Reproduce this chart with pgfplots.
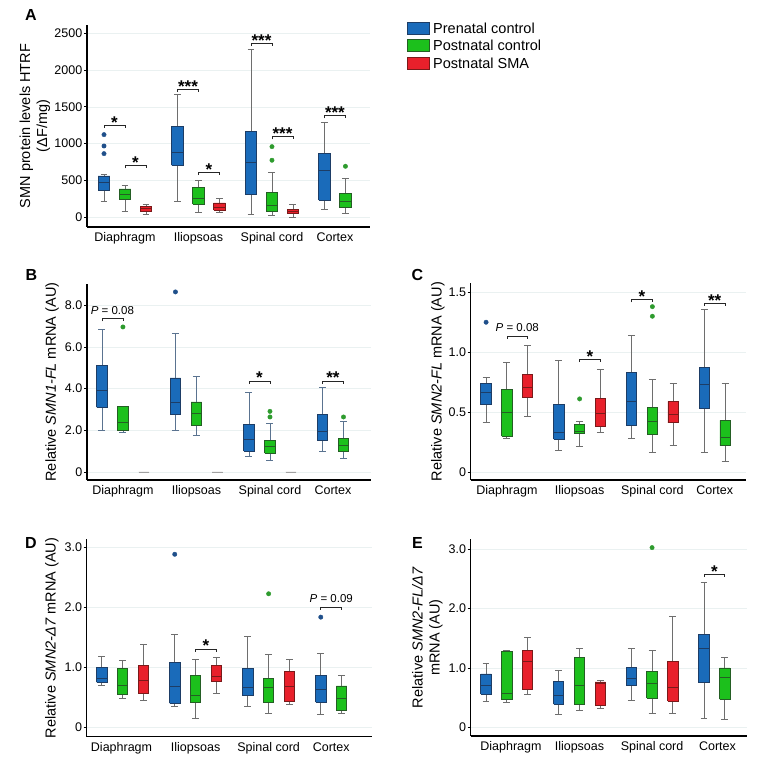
\documentclass[border=0pt]{standalone}
\usepackage{fontspec}
\setmainfont{Liberation Sans}
\usepackage{pgfplots}
\pgfplotsset{compat=1.18}

\definecolor{cB}{HTML}{1A6BBA}
\definecolor{cG}{HTML}{1CC01C}
\definecolor{cR}{HTML}{E8202B}
\definecolor{cZ}{HTML}{A0A0A0}
\definecolor{eB}{HTML}{1D3D66}
\definecolor{eG}{HTML}{245E24}
\definecolor{eR}{HTML}{7A1A1A}
\definecolor{eZ}{HTML}{A0A0A0}
\definecolor{oB}{HTML}{1F4F8A}
\definecolor{oG}{HTML}{2E9B2E}
\definecolor{wk}{HTML}{6E6E6E}
\definecolor{wkB}{HTML}{5A7390}
\definecolor{gridc}{HTML}{EAF1F1}

\pgfplotsset{
  panel/.style={
    scale only axis, anchor=south west, clip=false,
    axis lines=left, axis line style={-, line width=1.1pt, black},
    tick align=outside, major tick length=3pt,
    major tick style={black, line width=0.8pt},
    xtick style={draw=none},
    ymajorgrids, grid style={line width=0.5pt, gridc},
    xtick={1,4.5,8,11}, xticklabels={Diaphragm,Iliopsoas,Spinal cord,Cortex},
    tick label style={font=\fontsize{12.5}{14}\selectfont},
    yticklabel style={inner sep=1.5pt},
    xticklabel style={inner sep=0pt, yshift=-2.5pt},
    label style={font=\fontsize{14.5}{17}\selectfont},
    ylabel style={anchor=center, align=center},
  },
}

\def\hw{0.25}
\def\cw{0.165}
% #1 colour tag, #2 whisker colour, #3 position, #4 lower whisker, #5 Q1, #6 median, #7 Q3, #8 upper whisker
\newcommand{\bx}[8]{%
  \pgfmathsetmacro{\xa}{#3-\hw}\pgfmathsetmacro{\xb}{#3+\hw}%
  \pgfmathsetmacro{\ca}{#3-\cw}\pgfmathsetmacro{\cb}{#3+\cw}%
  \addplot[draw=#2, line width=0.8pt] coordinates {(#3,#7) (#3,#8)};
  \addplot[draw=#2, line width=0.8pt] coordinates {(\ca,#8) (\cb,#8)};
  \addplot[draw=#2, line width=0.8pt] coordinates {(#3,#5) (#3,#4)};
  \addplot[draw=#2, line width=0.8pt] coordinates {(\ca,#4) (\cb,#4)};
  \addplot[fill=c#1, draw=e#1, line width=0.8pt, line join=miter] coordinates {(\xa,#5) (\xb,#5) (\xb,#7) (\xa,#7) (\xa,#5)};
  \addplot[draw=e#1, line width=0.8pt] coordinates {(\xa,#6) (\xb,#6)};
}
\newcommand{\ol}[2]{\addplot[only marks, mark=*, mark size=2.2pt, draw=o#1, fill=o#1] coordinates {#2};}
\newcommand{\brk}[5]{%
  \draw[line width=0.7pt, black!85] ([yshift=-2.8pt]axis cs:#1,#4) -- (axis cs:#1,#4) -- (axis cs:#2,#4) -- ([yshift=-2.8pt]axis cs:#2,#4);
  \node[anchor=base, inner sep=0pt, yshift=-3pt, font=\fontsize{17}{17}\selectfont\bfseries] at (axis cs:#3,#4) {#5};}
\newcommand{\brp}[5]{%
  \draw[line width=0.7pt, black!85] ([yshift=-2.8pt]axis cs:#1,#4) -- (axis cs:#1,#4) -- (axis cs:#2,#4) -- ([yshift=-2.8pt]axis cs:#2,#4);
  \node[anchor=base, inner sep=0pt, yshift=4.4pt, font=\fontsize{11.5}{13}\selectfont] at (axis cs:#3,#4) {\textit{P} = #5};}

\begin{document}
\begin{tikzpicture}
\useasboundingbox (0,0) rectangle (767pt,763pt);

% ---------------- Panel A ----------------
\def\hw{0.275}
\begin{axis}[panel, at={(87pt,536pt)}, width=283pt, height=202pt,
  xmin=-0.81, xmax=12.67, ymin=-132, ymax=2613,
  ytick={0,500,1000,1500,2000,2500}, yticklabels={0,500,1000,1500,2000,2500},
  ylabel={SMN protein levels HTRF\\(ΔF/mg)},
  ylabel style={at={(axis description cs:-0.184,0.5)}}]
\bx{B}{wk}{0}{213}{371}{471}{562}{589}
\ol{B}{(0,865) (0,969) (0,1123)}
\bx{G}{wk}{1}{77}{245}{317}{385}{435}
\bx{R}{wk}{2}{41}{86}{118}{145}{177}
\bx{B}{wk}{3.5}{217}{707}{883}{1236}{1667}
\bx{G}{wk}{4.5}{63}{181}{258}{403}{503}
\bx{R}{wk}{5.5}{72}{100}{136}{195}{254}
\bx{B}{wk}{7}{41}{312}{743}{1168}{2283}
\bx{G}{wk}{8}{27}{82}{159}{340}{611}
\ol{G}{(8,775) (8,960)}
\bx{R}{wk}{9}{0}{54}{82}{109}{172}
\bx{B}{wk}{10.5}{109}{235}{639}{865}{1295}
\bx{G}{wk}{11.5}{54}{131}{213}{326}{530}
\ol{G}{(11.5,693)}
\brk{0}{1}{0.5}{1250}{*}
\brk{1}{2}{1.5}{702}{*}
\brk{3.5}{4.5}{4}{1739}{***}
\brk{4.5}{5.5}{5}{611}{*}
\brk{7}{8}{7.5}{2364}{***}
\brk{8}{9}{8.5}{1096}{***}
\brk{10.5}{11.5}{11}{1381}{***}
\end{axis}
\def\hw{0.25}

% ---------------- Panel B ----------------
\begin{axis}[panel, at={(87pt,283pt)}, width=284pt, height=196pt,
  xmin=-0.71, xmax=12.81, ymin=-0.384, ymax=9.02,
  ytick={0,2,4,6,8}, yticklabels={0,2.0,4.0,6.0,8.0},
  ylabel={Relative \textit{SMN1-FL} mRNA (AU)},
  ylabel style={at={(axis description cs:-0.123,0.5)}}]
\bx{B}{wkB}{0}{2.0}{3.10}{3.90}{5.12}{6.85}
\bx{G}{wkB}{1}{1.89}{1.98}{2.38}{3.15}{3.15}
\ol{G}{(1,6.96)}
\bx{Z}{eZ}{2}{0}{0}{0}{0}{0}
\bx{B}{wkB}{3.5}{2.0}{2.77}{3.34}{4.51}{6.67}
\ol{B}{(3.5,8.64)}
\bx{G}{wkB}{4.5}{1.76}{2.24}{2.82}{3.36}{4.58}
\bx{Z}{eZ}{5.5}{0}{0}{0}{0}{0}
\bx{B}{wkB}{7}{0.77}{1.01}{1.58}{2.29}{3.84}
\bx{G}{wkB}{8}{0.54}{0.90}{1.22}{1.50}{2.35}
\ol{G}{(8,2.64) (8,2.91)}
\bx{Z}{eZ}{9}{0}{0}{0}{0}{0}
\bx{B}{wkB}{10.5}{1.01}{1.54}{1.97}{2.78}{4.05}
\bx{G}{wkB}{11.5}{0.66}{0.98}{1.26}{1.63}{2.42}
\ol{G}{(11.5,2.64)}
\brp{0}{1}{0.5}{7.36}{0.08}
\brk{7}{8}{7.5}{4.37}{*}
\brk{10.5}{11.5}{11}{4.37}{**}
\end{axis}

% ---------------- Panel C ----------------
\begin{axis}[panel, at={(470.7pt,283pt)}, width=275pt, height=196.7pt,
  xmin=-0.74, xmax=12.49, ymin=-0.067, ymax=1.575,
  ytick={0,0.5,1,1.5}, yticklabels={0,0.5,1.0,1.5},
  ylabel={Relative \textit{SMN2-FL} mRNA (AU)},
  ylabel style={at={(axis description cs:-0.119,0.5)}}]
\bx{B}{wk}{0}{0.41}{0.56}{0.665}{0.74}{0.79}
\ol{B}{(0,1.25)}
\bx{G}{wk}{1}{0.28}{0.30}{0.50}{0.69}{0.915}
\bx{R}{wk}{2}{0.46}{0.62}{0.71}{0.815}{1.06}
\bx{B}{wk}{3.5}{0.18}{0.275}{0.33}{0.565}{0.93}
\bx{G}{wk}{4.5}{0.21}{0.32}{0.34}{0.40}{0.42}
\ol{G}{(4.5,0.61)}
\bx{R}{wk}{5.5}{0.33}{0.38}{0.49}{0.615}{0.86}
\bx{B}{wk}{7}{0.28}{0.39}{0.59}{0.83}{1.14}
\bx{G}{wk}{8}{0.16}{0.31}{0.42}{0.54}{0.77}
\ol{G}{(8,1.30) (8,1.38)}
\bx{R}{wk}{9}{0.22}{0.41}{0.48}{0.59}{0.74}
\bx{B}{wk}{10.5}{0.16}{0.53}{0.73}{0.87}{1.36}
\bx{G}{wk}{11.5}{0.09}{0.22}{0.29}{0.43}{0.74}
\brp{1}{2}{1.5}{1.135}{0.08}
\brk{4.5}{5.5}{5}{0.94}{*}
\brk{7}{8}{7.5}{1.44}{*}
\brk{10.5}{11.5}{11}{1.41}{**}
\end{axis}

% ---------------- Panel D ----------------
\begin{axis}[panel, at={(86.7pt,26.3pt)}, width=285pt, height=197.4pt,
  xmin=-0.72, xmax=12.94, ymin=-0.157, ymax=3.14,
  ytick={0,1,2,3}, yticklabels={0,1.0,2.0,3.0},
  xtick={0.95,4.5,8,11},
  ylabel={Relative \textit{SMN2-Δ7} mRNA (AU)},
  ylabel style={at={(axis description cs:-0.122,0.5)}}]
\bx{B}{wk}{0}{0.70}{0.75}{0.82}{1.00}{1.19}
\bx{G}{wk}{1}{0.48}{0.545}{0.70}{0.98}{1.11}
\bx{R}{wk}{2}{0.456}{0.56}{0.785}{1.03}{1.386}
\bx{B}{wk}{3.5}{0.356}{0.40}{0.68}{1.09}{1.55}
\ol{B}{(3.5,2.89)}
\bx{G}{wk}{4.5}{0.156}{0.42}{0.53}{0.87}{1.135}
\bx{R}{wk}{5.5}{0.56}{0.77}{0.85}{1.035}{1.17}
\bx{B}{wk}{7}{0.35}{0.53}{0.67}{0.985}{1.51}
\bx{G}{wk}{8}{0.24}{0.41}{0.66}{0.82}{1.22}
\ol{G}{(8,2.23)}
\bx{R}{wk}{9}{0.38}{0.43}{0.685}{0.93}{1.14}
\bx{B}{wk}{10.5}{0.22}{0.42}{0.63}{0.86}{1.235}
\ol{B}{(10.5,1.84)}
\bx{G}{wk}{11.5}{0.24}{0.28}{0.48}{0.69}{0.86}
\brk{4.5}{5.5}{5}{1.31}{*}
\brp{10.5}{11.5}{11}{2.01}{0.09}
\end{axis}

% ---------------- Panel E ----------------
\begin{axis}[panel, at={(470.7pt,27pt)}, width=276pt, height=196.7pt,
  xmin=-0.74, xmax=12.56, ymin=-0.147, ymax=3.17,
  ytick={0,1,2,3}, yticklabels={0,1.0,2.0,3.0},
  xtick={1.2,4.5,8,11.15},
  ylabel={Relative \textit{SMN2-FL/Δ7}\\mRNA (AU)},
  ylabel style={at={(axis description cs:-0.157,0.5)}}]
\bx{B}{wk}{0}{0.43}{0.556}{0.71}{0.90}{1.08}
\bx{G}{wk}{1}{0.416}{0.466}{0.567}{1.28}{1.29}
\bx{R}{wk}{2}{0.556}{0.646}{1.11}{1.29}{1.51}
\bx{B}{wk}{3.5}{0.22}{0.39}{0.54}{0.775}{0.955}
\bx{G}{wk}{4.5}{0.287}{0.39}{0.71}{1.174}{1.326}
\bx{R}{wk}{5.5}{0.315}{0.365}{0.74}{0.764}{0.79}
\bx{B}{wk}{7}{0.45}{0.70}{0.826}{1.01}{1.337}
\bx{G}{wk}{8}{0.24}{0.49}{0.74}{0.944}{1.30}
\ol{G}{(8,3.03)}
\bx{R}{wk}{9}{0.236}{0.444}{0.68}{1.11}{1.865}
\bx{B}{wk}{10.5}{0.15}{0.75}{1.33}{1.57}{2.44}
\bx{G}{wk}{11.5}{0.135}{0.47}{0.84}{1.00}{1.185}
\brk{10.5}{11.5}{11}{2.58}{*}
\end{axis}

% legend
\begin{scope}[font=\fontsize{14.5}{16}\selectfont]
\draw[fill=cB, draw=eB, line width=0.8pt] (407pt,729pt) rectangle (429pt,741pt);
\node[anchor=west, inner sep=0pt] at (433pt,735pt) {Prenatal control};
\draw[fill=cG, draw=eG, line width=0.8pt] (407pt,711.5pt) rectangle (429pt,723.5pt);
\node[anchor=west, inner sep=0pt] at (433pt,717.5pt) {Postnatal control};
\draw[fill=cR, draw=eR, line width=0.8pt] (407pt,694pt) rectangle (429pt,706pt);
\node[anchor=west, inner sep=0pt] at (433pt,700pt) {Postnatal SMA};
\end{scope}

% panel letters
\node[font=\fontsize{16}{16}\selectfont\bfseries] at (31pt,748pt) {A};
\node[font=\fontsize{16}{16}\selectfont\bfseries] at (31.5pt,488pt) {B};
\node[font=\fontsize{16}{16}\selectfont\bfseries] at (417.5pt,488pt) {C};
\node[font=\fontsize{16}{16}\selectfont\bfseries] at (31pt,220pt) {D};
\node[font=\fontsize{16}{16}\selectfont\bfseries] at (417.5pt,220pt) {E};
\end{tikzpicture}
\end{document}
